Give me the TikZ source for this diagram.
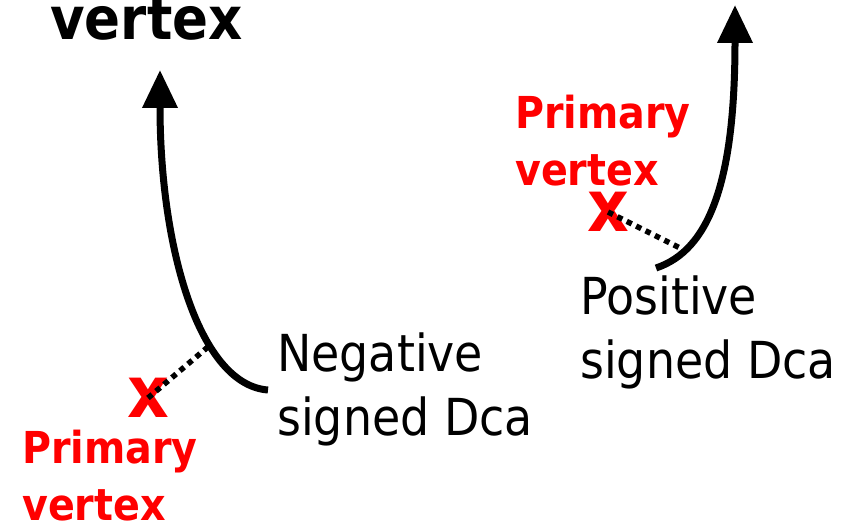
\documentclass[tikz,border=0pt]{standalone}
\usepackage{fontspec}
\setmainfont{DejaVu Sans}[FakeStretch=0.9]
\usetikzlibrary{arrows.meta}
\tikzset{
  track/.style={line width=7pt, -{Triangle[length=38pt,width=34pt]}},
  dcaline/.style={line width=5.5pt, dash pattern=on 5.5pt off 5pt},
  pvmark/.style={text=red, font=\fontsize{72}{72}\selectfont\bfseries, inner sep=0pt},
  pvlabel/.style={text=red, font=\fontsize{44}{57}\selectfont\bfseries, align=left, inner sep=0pt, anchor=base west},
  dcalabel/.style={font=\fontsize{51}{64}\selectfont, align=left, inner sep=0pt, anchor=base west}
}
\begin{document}
\begin{tikzpicture}[x=1pt,y=-1pt]
\useasboundingbox (0,0) rectangle (845,524);
\node [font=\fontsize{59}{59}\selectfont\bfseries, inner sep=0pt, anchor=base west] (topvtx) at (50,40) {vertex};

\coordinate (negstart) at (268,390);
\coordinate (negtip) at (160,70);
\coordinate (negdca) at (209,346);
\draw [track] (negstart) .. controls (200,385) and (160,250) .. (negtip);
\node [pvmark] (negpv) at (148,398) {x};
\draw [dcaline] (negpv.center) -- (negdca);
\node [pvlabel] (negpvlab) at (22,520) {Primary\\vertex};
\node [dcalabel] (neglab) at (277,435) {Negative\\signed Dca};

\coordinate (posstart) at (656,268);
\coordinate (postip) at (735,5);
\coordinate (posdca) at (684,250);
\draw [track] (posstart) .. controls (710,250) and (735,180) .. (postip);
\node [pvmark] (pospv) at (608,212) {x};
\draw [dcaline] (pospv.center) -- (posdca);
\node [pvlabel] (pospvlab) at (515,185) {Primary\\vertex};
\node [dcalabel] (poslab) at (580,378) {Positive\\signed Dca};
\end{tikzpicture}
\end{document}
